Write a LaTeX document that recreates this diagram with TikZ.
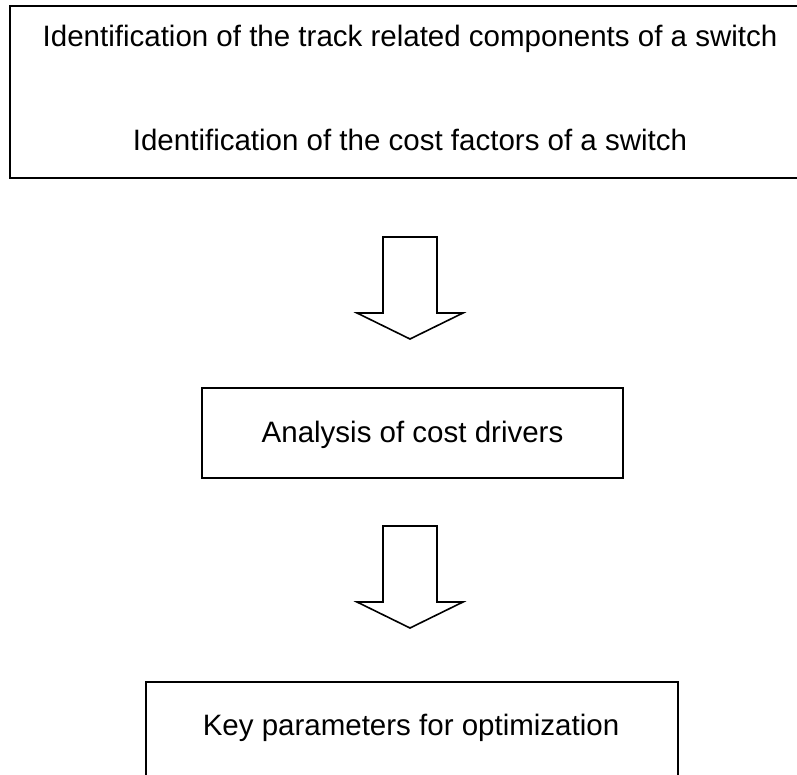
\documentclass[tikz,border=0pt]{standalone}
\usepackage{fontspec}
\setmainfont{Liberation Sans}
\begin{document}
\begin{tikzpicture}[x=1pt,y=-1pt,
  frame/.style={draw=black,line width=1.6pt,fill=none,inner sep=0pt},
  lbl/.style={anchor=base,inner sep=0pt,font=\fontsize{29.5}{35}\selectfont},
  blockarrow/.style={draw=black,line width=1.6pt,line join=miter,fill=white}]
\useasboundingbox (0,0) rectangle (797,775);
\clip (0,0) rectangle (797,775);
% top box (right side runs off the picture)
\node[frame,anchor=north west,minimum width=820pt,minimum height=172pt] (top) at (9,5) {};
\node[lbl] (t1) at (410,47) {Identification of the track related components of a switch};
\node[lbl] (t2) at (410,151) {Identification of the cost factors of a switch};
% first block arrow
\coordinate (a1) at (410,237);
\draw[blockarrow] (383,237) -- (437,237) -- (437,313) -- (463,313) -- (410,339) -- (357,313) -- (383,313) -- cycle;
% middle box
\node[frame,minimum width=421pt,minimum height=90pt] (mid) at (412.5,433) {};
\node[lbl] (m1) at (412.5,442) {Analysis of cost drivers};
% second block arrow
\coordinate (a2) at (410,526);
\draw[blockarrow] (383,526) -- (437,526) -- (437,602) -- (463,602) -- (410,628) -- (357,602) -- (383,602) -- cycle;
% bottom box (bottom side runs off the picture)
\node[frame,anchor=north west,minimum width=532pt,minimum height=120pt] (bot) at (145,681) {};
\node[lbl] (b1) at (411,735) {Key parameters for optimization};
\end{tikzpicture}
\end{document}
